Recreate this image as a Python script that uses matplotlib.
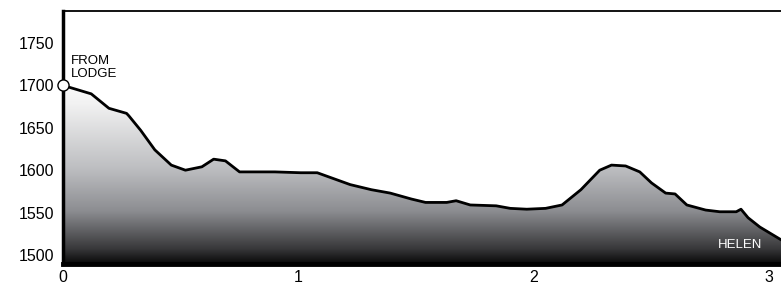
#  ELEVATION PROFILE - LODGE TO HELEN

import numpy as np
import matplotlib
matplotlib.use("Agg")
import matplotlib.pyplot as plt
from matplotlib.colors import LinearSegmentedColormap
from matplotlib.patches import Polygon

# profile (distance, elevation)
distance = [0.00, 0.12, 0.195, 0.27, 0.28, 0.33, 0.39, 0.46, 0.52, 0.59, 0.64,
            0.69, 0.75, 0.84, 0.90, 1.01, 1.08, 1.14, 1.22, 1.31, 1.39, 1.48,
            1.54, 1.63, 1.67, 1.73, 1.84, 1.90, 1.97, 2.05, 2.12, 2.20, 2.28,
            2.33, 2.39, 2.45, 2.50, 2.56, 2.60, 2.65, 2.73, 2.79, 2.86, 2.88,
            2.91, 2.96, 3.05]
elevation = [1700, 1690, 1673, 1667, 1664, 1647, 1624, 1606, 1600, 1604, 1613,
             1611, 1598, 1598, 1598, 1597, 1597, 1591, 1583, 1577, 1573, 1566,
             1562, 1562, 1564, 1559, 1558, 1555, 1554, 1555, 1559, 1577, 1600,
             1606, 1605, 1598, 1585, 1573, 1572, 1559, 1553, 1551, 1551, 1554,
             1544, 1533, 1518]

x_ticks = [0, 1, 2, 3]
y_ticks = [1500, 1550, 1600, 1650, 1700, 1750]
start_label = "FROM\nLODGE"
end_label = "HELEN"

FONT = "Liberation Sans"
ymin, ymax = 1489.4, 1787.7
xmax = 3.05

fig = plt.figure(figsize=(7.81, 2.88), dpi=100)
ax = fig.add_axes([63 / 781, 24 / 288, 718 / 781, 253 / 288])

# gradient fill under the profile
grad = LinearSegmentedColormap.from_list("elev", [
    (0.00, "#080808"),
    (0.08, "#38383a"),
    (0.28, "#8c8d91"),
    (0.50, "#bcbdc0"),
    (0.85, "#f2f2f2"),
    (1.00, "#ffffff"),
])
img = ax.imshow(np.linspace(0, 1, 256).reshape(-1, 1), cmap=grad, aspect="auto",
                origin="lower", extent=[0, xmax, ymin, 1712], zorder=1)
verts = list(zip(distance, elevation)) + [(distance[-1], ymin), (0, ymin)]
clip = Polygon(verts, closed=True, facecolor="none", edgecolor="none")
ax.add_patch(clip)
img.set_clip_path(clip)

# profile line + start marker
ax.plot(distance, elevation, color="black", lw=2, zorder=3, solid_joinstyle="round")
ax.plot(distance[0], elevation[0], "o", ms=8, mfc="white", mec="black", mew=1,
        zorder=4, clip_on=False)

ax.text(0.035, 1706, start_label, fontsize=9.5, family=FONT, va="bottom",
        ha="left", linespacing=1.1)
ax.text(2.97, 1512, end_label, fontsize=9.5, family=FONT, color="white",
        ha="right", va="center", zorder=5)

ax.set_xlim(0, xmax)
ax.set_ylim(ymin, ymax)
ax.set_xticks(x_ticks)
ax.set_yticks(y_ticks)
ax.tick_params(axis="y", length=0, pad=6, labelsize=11.5)
ax.tick_params(axis="x", length=0, pad=4, labelsize=11.5)
for lab in ax.get_xticklabels() + ax.get_yticklabels():
    lab.set_family(FONT)

ax.spines["right"].set_visible(False)
ax.spines["top"].set_linewidth(1.3)
ax.spines["left"].set_linewidth(2.5)
ax.spines["bottom"].set_linewidth(3.5)

fig.savefig("out.png", dpi=100, facecolor="white")
